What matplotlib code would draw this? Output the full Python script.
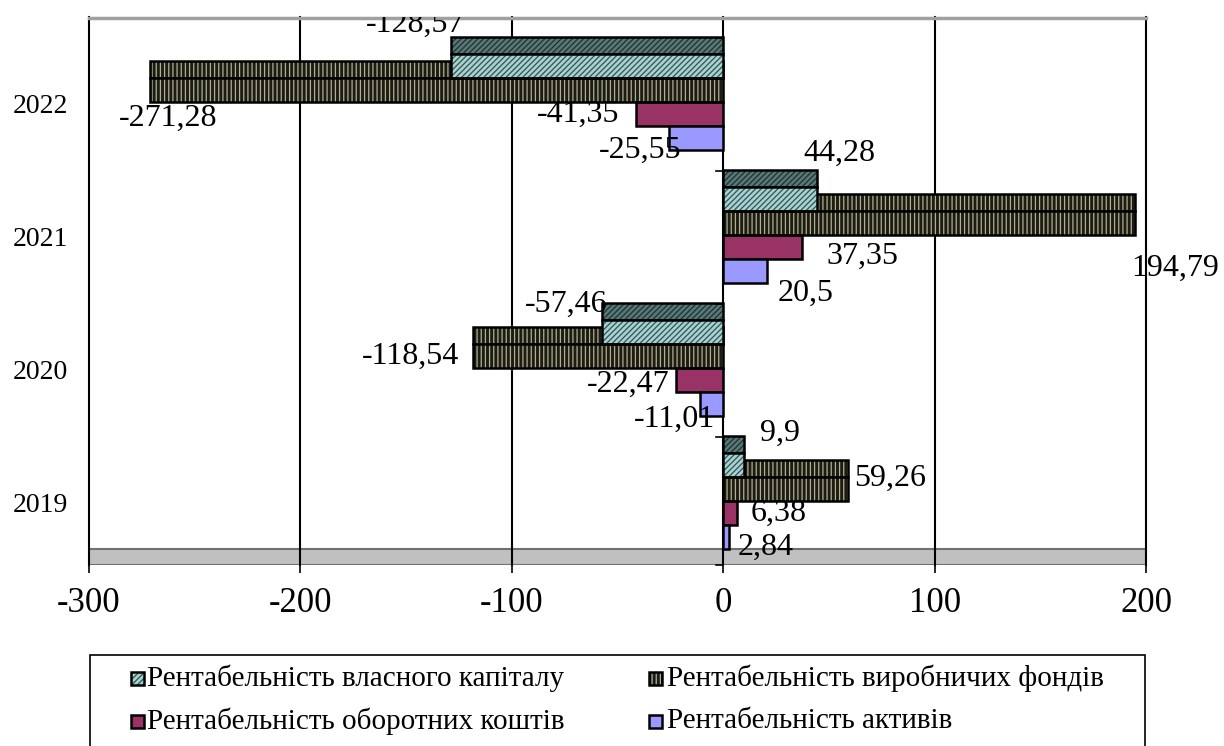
import matplotlib.pyplot as plt
from matplotlib.patches import Rectangle
from matplotlib.transforms import Bbox, TransformedBbox, blended_transform_factory

# rentability indicators, %, by year (chronological order)
years = ["2019", "2020", "2021", "2022"]
equity = [9.9, -57.46, 44.28, -128.57]
production_assets = [59.26, -118.54, 194.79, -271.28]
working_capital = [6.38, -22.47, 37.35, -41.35]
total_assets = [2.84, -11.01, 20.5, -25.55]

series_names = [
    "Рентабельність власного капіталу",
    "Рентабельність виробничих фондів",
    "Рентабельність оборотних коштів",
    "Рентабельність активів",
]

W, H = 1224, 746
FONT = "Liberation Serif"
plt.rcParams["font.family"] = [FONT, "DejaVu Serif"]
plt.rcParams["hatch.linewidth"] = 0.9

BAR_H = 0.18       # front face height (category units)
DEPTH = 0.128      # height of the "3d" top strip
FRONT0 = 0.28      # first front face offset inside a category
FLOOR = 4.0
YMAX = 4.12

# bar styles: (face, hatch colour, hatch)
STYLE_EQ_FRONT = ("#a6d2d2", "#35504f", "//////")
STYLE_EQ_TOP = ("#587878", "#1e3030", "//////")
STYLE_PR = ("#1c1c14", "#b0b090", "||||")
RED = "#993366"
BLUE = "#9999ff"

# label offsets in pixels from bar end / front face centre (x right, y down)
off_eq = [(36, -32), (-36, -28), (23, -46), (-36, -42)]
off_pr = [(42, -11), (-62, 0), (40, 45), (18, 28)]
off_wc = [(42, 0), (-48, 4), (60, 9), (-58, 0)]
off_ta = [(36, 10), (-25, 15), (39, 22), (-29, 12)]

fig = plt.figure(figsize=(W / 100, H / 100), dpi=100)
ax = fig.add_axes([89 / W, 1 - 565 / H, (1146 - 89) / W, (565 - 17) / H])
ax.set_xlim(-300, 200)
ax.set_ylim(YMAX, 0)
for s in ax.spines.values():
    s.set_visible(False)
ax.set_yticks([])


def hatched_bar(y0, height, value, style, z):
    fc, hc, hatch = style
    ax.barh(y0 + height / 2, value, height=height, left=0, color=fc,
            edgecolor=hc, hatch=hatch, linewidth=0, zorder=z)
    ax.barh(y0 + height / 2, value, height=height, left=0, fill=False,
            edgecolor="black", linewidth=1.8, zorder=z + 0.1)


def plain_bar(y0, height, value, color, z):
    ax.barh(y0 + height / 2, value, height=height, left=0, color=color,
            edgecolor="black", linewidth=1.8, zorder=z)


label_clip = TransformedBbox(Bbox([[-0.5, -0.5], [1.5, 1.0]]), ax.transAxes)


def value_label(value, yc, off):
    txt = f"{value:g}".replace(".", ",")
    t = ax.annotate(txt, xy=(value, yc), xytext=(off[0], -off[1]),
                    textcoords="offset pixels", ha="center", va="center",
                    fontsize=23, fontfamily=FONT, zorder=6)
    t.set_clip_box(label_clip)
    t.set_clip_on(True)


for i, year in enumerate(years):
    k = len(years) - 1 - i
    f1 = k + FRONT0
    f2 = f1 + BAR_H
    f3 = f2 + BAR_H
    f4 = f3 + BAR_H

    # top strips first so the front faces cover them
    hatched_bar(f2 - DEPTH, DEPTH, production_assets[i], STYLE_PR, 3)
    hatched_bar(f1 - DEPTH, DEPTH, equity[i], STYLE_EQ_TOP, 3.2)
    hatched_bar(f1, BAR_H, equity[i], STYLE_EQ_FRONT, 3.4)
    hatched_bar(f2, BAR_H, production_assets[i], STYLE_PR, 3.4)
    plain_bar(f3, BAR_H, working_capital[i], RED, 3.4)
    plain_bar(f4, BAR_H, total_assets[i], BLUE, 3.4)

    value_label(equity[i], f1 + BAR_H / 2, off_eq[i])
    value_label(production_assets[i], f2 + BAR_H / 2, off_pr[i])
    value_label(working_capital[i], f3 + BAR_H / 2, off_wc[i])
    value_label(total_assets[i], f4 + BAR_H / 2, off_ta[i])

    ax.text(-0.02, k + 0.67, year, transform=blended_transform_factory(ax.transAxes, ax.transData),
            ha="right", va="center", fontsize=20, fontfamily=FONT)

# floor of the plot area
ax.add_patch(Rectangle((-300, FLOOR), 500, YMAX - FLOOR, facecolor="#c0c0c0",
                       edgecolor="#707070", linewidth=1.5, zorder=1))
# top border
ax.plot([-300, 200], [0.01, 0.01], color="#a0a0a0", linewidth=2.5, zorder=5, clip_on=False)

# vertical grid lines, hidden behind the bars
for gx in range(-300, 201, 100):
    ax.plot([gx, gx], [0, YMAX], color="black", linewidth=1.5, zorder=2, clip_on=False)

# category tick marks on the zero axis
for cy in [0.155, 1.155, 2.155, 3.155, YMAX]:
    ax.plot([-3.4, 0], [cy, cy], color="black", linewidth=1.2, zorder=5, clip_on=False)

ax.set_xticks(range(-300, 201, 100))
ax.set_xticklabels([str(v) for v in range(-300, 201, 100)])
ax.tick_params(axis="x", length=6, width=1.2, color="black", pad=10, labelsize=25)


# legend box, cut at the lower edge of the image
def fx(x):
    return x / W


def fy(y):
    return 1 - y / H


fig.add_artist(Rectangle((fx(90), fy(760)), fx(1145) - fx(90), fy(655) - fy(760),
                         transform=fig.transFigure, fill=False, edgecolor="black",
                         linewidth=1.2, clip_on=False))

legend_styles = [STYLE_EQ_FRONT, STYLE_PR, (RED, RED, None), (BLUE, BLUE, None)]
legend_pos = [(137, 678, 147), (655, 678, 667), (137, 721, 147), (655, 721, 667)]
for name, st, (mx, my, tx) in zip(series_names, legend_styles, legend_pos):
    fc, hc, hatch = st
    sz = 13
    fig.add_artist(Rectangle((fx(mx - sz / 2), fy(my + sz / 2)), sz / W, sz / H,
                             transform=fig.transFigure, facecolor=fc, edgecolor=hc,
                             hatch=hatch, linewidth=0))
    fig.add_artist(Rectangle((fx(mx - sz / 2), fy(my + sz / 2)), sz / W, sz / H,
                             transform=fig.transFigure, fill=False, edgecolor="black",
                             linewidth=1.8))
    fig.text(fx(tx), fy(my), name, ha="left", va="center", fontsize=21, fontfamily=FONT)

fig.savefig("out.png", dpi=100)
